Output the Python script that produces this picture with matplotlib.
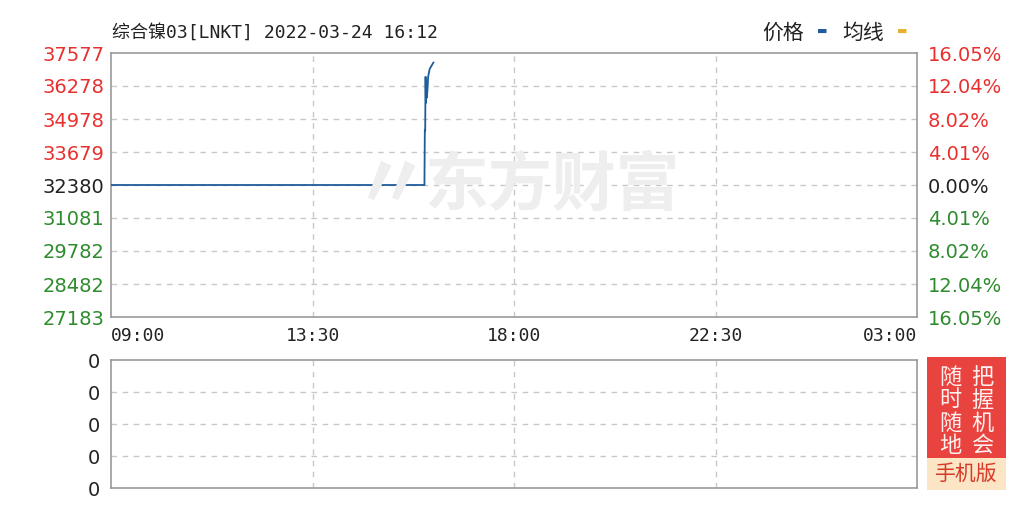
import matplotlib
matplotlib.use("Agg")
import matplotlib.pyplot as plt
from matplotlib.patches import Rectangle

plt.rcParams['font.family'] = ['Noto Sans CJK SC', 'DejaVu Sans']

# ---- data ----
title_text = "综合镍03[LNKT] 2022-03-24 16:12"
base_price = 32380
price_ticks = [27183, 28482, 29782, 31081, 32380, 33679, 34978, 36278, 37577]
pct_labels = ["16.05%", "12.04%", "8.02%", "4.01%", "0.00%", "4.01%", "8.02%", "12.04%", "16.05%"]
time_labels = ["09:00", "13:30", "18:00", "22:30", "03:00"]
time_label_minutes = [0, 270, 540, 810, 1080]   # minutes after 09:00
# price line: minutes after 09:00 and price
line_minutes = [0, 419, 420, 420.5, 421, 421.5, 422, 422.5, 423, 424, 425, 427, 429, 431, 432]
line_prices = [32380, 32380, 32380, 34530, 34530, 36650, 35600, 36300, 35800, 36100, 36650, 36950, 37050, 37150, 37200]
volume_ticks_labels = ["0", "0", "0", "0", "0"]

RED = "#e8312f"
GREEN = "#2e8b2e"
GRID = "#c8c8c8"
BORDER = "#9a9a9a"
LINE = "#1f5c99"

fig = plt.figure(figsize=(10.32, 5.15), dpi=100)

W, H = 1032, 515
def rect(x0, y0, x1, y1):
    return [x0 / W, 1 - y1 / H, (x1 - x0) / W, (y1 - y0) / H]

ax = fig.add_axes(rect(111, 53, 917, 317))
ax2 = fig.add_axes(rect(111, 360, 917, 488))

# main chart
ax.set_xlim(0, 1080)
ax.set_ylim(price_ticks[0], price_ticks[-1])
ax.plot(line_minutes, line_prices, color=LINE, lw=1.3, solid_joinstyle='miter', zorder=4)
for t in time_label_minutes[1:-1]:
    ax.axvline(t, color=GRID, lw=1, ls=(0, (4, 4)), zorder=1)
for p in price_ticks[1:-1]:
    ax.axhline(p, color=GRID, lw=1, ls=(0, (4, 4)), zorder=1)
for s in ax.spines.values():
    s.set_color(BORDER)
    s.set_linewidth(1.2)
ax.set_yticks(price_ticks)
ax.set_yticklabels([str(p) for p in price_ticks], fontfamily='DejaVu Sans', fontsize=14)
for lbl, p in zip(ax.get_yticklabels(), price_ticks):
    lbl.set_color(RED if p > base_price else (GREEN if p < base_price else "#222222"))
ax.tick_params(axis='y', length=0, pad=5)
ax.set_xticks(time_label_minutes)
ax.set_xticklabels(time_labels, fontfamily='DejaVu Sans Mono', fontsize=13, color="#222222")
ax.tick_params(axis='x', length=0, pad=7)
xl = ax.get_xticklabels()
xl[0].set_ha('left')
xl[-1].set_ha('right')

axr = ax.twinx()
axr.set_ylim(price_ticks[0], price_ticks[-1])
axr.set_yticks(price_ticks)
axr.set_yticklabels(pct_labels[::-1], fontfamily='DejaVu Sans', fontsize=14)
for lbl, p in zip(axr.get_yticklabels(), price_ticks):
    lbl.set_color(RED if p > base_price else (GREEN if p < base_price else "#222222"))
axr.tick_params(axis='y', length=0, pad=8)
for s in axr.spines.values():
    s.set_visible(False)

# watermark
fig.text(552 / W, 1 - 186 / H, "东方财富", fontsize=46, color="#eeeeee", fontweight='bold',
         ha='center', va='center', zorder=0, style='italic')
fig.text(392 / W, 1 - 186 / H, "〃", fontsize=56, color="#eeeeee", fontweight='bold',
         ha='center', va='center', zorder=0)

# title & legend
fig.text(112 / W, 1 - 33 / H, title_text, fontsize=13, color="#222222", va='center', ha='left',
         family=['DejaVu Sans Mono', 'Noto Sans CJK SC'])
fig.text(762 / W, 1 - 33 / H, "价格", fontsize=15, color="#222222", va='center', ha='left')
fig.text(817 / W, 1 - 31 / H, "▬", fontsize=8, color=LINE, va='center', ha='left', family='DejaVu Sans')
fig.text(842 / W, 1 - 33 / H, "均线", fontsize=15, color="#222222", va='center', ha='left')
fig.text(897 / W, 1 - 31 / H, "▬", fontsize=8, color="#e8b030", va='center', ha='left', family='DejaVu Sans')

# volume chart
ax2.set_xlim(0, 1080)
ax2.set_ylim(0, 4)
for t in time_label_minutes[1:-1]:
    ax2.axvline(t, color=GRID, lw=1, ls=(0, (4, 4)))
for v in [1, 2, 3]:
    ax2.axhline(v, color=GRID, lw=1, ls=(0, (4, 4)))
for s in ax2.spines.values():
    s.set_color(BORDER)
    s.set_linewidth(1.2)
ax2.set_xticks([])
ax2.set_yticks([0, 1, 2, 3, 4])
ax2.set_yticklabels(volume_ticks_labels, fontfamily='DejaVu Sans', fontsize=14, color="#222222")
ax2.tick_params(axis='y', length=0, pad=8)

# badge
fig.patches.append(Rectangle((927 / W, 1 - 458 / H), 79 / W, 101 / H, transform=fig.transFigure,
                             facecolor="#e8433e", edgecolor='none'))
fig.patches.append(Rectangle((927 / W, 1 - 490 / H), 79 / W, 32 / H, transform=fig.transFigure,
                             facecolor="#fce5c4", edgecolor='none'))
for i, (a, b) in enumerate(zip("随时随地", "把握机会")):
    y = 1 - (377 + i * 23) / H
    fig.text(950 / W, y, a, fontsize=16, color="#fff0f0", ha='center', va='center', style='italic')
    fig.text(982 / W, y, b, fontsize=16, color="#fff0f0", ha='center', va='center', style='italic')
fig.text(966 / W, 1 - 474 / H, "手机版", fontsize=15, color="#d83a2a", ha='center', va='center')

fig.savefig("out.png", dpi=100)
